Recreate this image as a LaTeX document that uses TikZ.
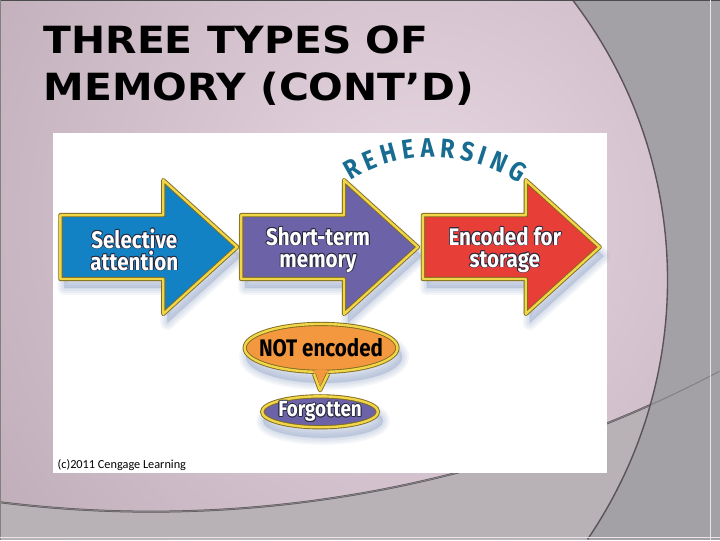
\documentclass[tikz,border=0pt]{standalone}
\usepackage{fontspec}
\usepackage[copies]{contour}
\usetikzlibrary{shapes.geometric,decorations.text}

\newfontfamily\titlefont{DejaVu Sans}[FakeStretch=1.09]
\newfontfamily\labelfont{Fira Sans}[FakeStretch=0.86]
\newfontfamily\creditfont{Carlito}

\definecolor{pagegray}{RGB}{163,161,166}
\definecolor{pinklight}{RGB}{232,216,226}
\definecolor{mauve}{RGB}{165,145,158}
\definecolor{lowgray}{RGB}{184,177,182}
\definecolor{arcline}{RGB}{92,82,90}
\definecolor{arrowblue}{RGB}{18,130,196}
\definecolor{arrowpurple}{RGB}{108,98,168}
\definecolor{arrowred}{RGB}{232,62,56}
\definecolor{bubbleorange}{RGB}{244,152,64}
\definecolor{gold}{RGB}{240,214,72}
\definecolor{goldedge}{RGB}{128,108,30}
\definecolor{shadowc}{RGB}{140,158,198}
\definecolor{rehblue}{RGB}{24,108,145}
\definecolor{textedge}{RGB}{40,40,62}

\contourlength{0.8pt}
\contournumber{8}
\newcommand{\outl}[1]{\contour{textedge}{#1}}
\newcommand{\rehfont}{\labelfont\bfseries\fontsize{27}{27}\selectfont\color{rehblue}}
% arrow outline, #1 = left end of the shaft
\newcommand{\arrowpath}[1]{(#1,325) -- ++(103,0) -- ++(0,35) -- ++(74,-67) -- ++(-74,-67) -- ++(0,35) -- ++(-103,0) -- cycle}

\tikzset{
  memarrow/.style={fill=#1, draw=goldedge, line width=4.2pt, line join=round,
    postaction={draw=gold, line width=2.4pt, line join=round}},
  bubble/.style={ellipse, fill=#1, draw=goldedge, line width=4.2pt, inner sep=0pt,
    postaction={draw=gold, line width=2.4pt}},
  memlabel/.style={text=white, align=center, font=\labelfont\bfseries\fontsize{24}{22}\selectfont},
  softshadow/.style={shadowc, opacity=0.1, line join=round}
}

\begin{document}
\begin{tikzpicture}[x=1pt,y=1pt]
        % slide background
        \fill[pagegray] (0,0) rectangle (720,540);
        \begin{scope}
            \clip (0,0) rectangle (720,540);
            \clip (207,260) circle (461);
            \shade[inner color=pinklight, outer color=mauve] (420,320) circle (860);
            \fill[lowgray, even odd rule] (0,0) rectangle (720,540) (151,1250) circle (1222);
            \draw[arcline, line width=2pt] (0,37.4) arc[start angle=262.9, end angle=297.75, radius=1222];
        \end{scope}
        \begin{scope}
            \clip (0,0) rectangle (720,540);
            \draw[gray, line width=1pt] (0,37.4) arc[start angle=262.9, end angle=297.75, radius=1222];
            \draw[arcline, line width=1.4pt] (573.2,540) arc[start angle=37.4, end angle=-34.3, radius=461];
        \end{scope}
        \draw[black!70, line width=1pt] (0,539.5) -- (720,539.5);
        \draw[black!50, line width=0.8pt] (0.4,0) -- (0.4,540);
        \draw[white!80!gray, line width=0.8pt] (711,0) -- (711,540);
        \draw[white!80!gray, line width=0.8pt] (0,2) -- (720,2);

        \node[anchor=base west, inner sep=0pt, font=\titlefont\bfseries\fontsize{37.5}{38}\selectfont] (title1) at (43,487) {THREE TYPES OF};
        \node[anchor=base west, inner sep=0pt, font=\titlefont\bfseries\fontsize{37.5}{38}\selectfont] (title2) at (43,440) {MEMORY (CONT’D)};

        % the figure
        \fill[white] (53,67) rectangle (607,407);
        \foreach \x in {60,241,423}
            \foreach \w in {14,10,6,2}
                \filldraw[softshadow, line width=\w pt, shift={(4,-9)}] \arrowpath{\x};
        \foreach \w in {14,10,6,2}{
            \filldraw[softshadow, line width=\w pt] (324,183) ellipse[x radius=78, y radius=26];
            \filldraw[softshadow, line width=\w pt] (323,119) ellipse[x radius=60, y radius=17];
        }
        \draw[memarrow=arrowblue] \arrowpath{60};
        \draw[memarrow=arrowpurple] \arrowpath{241};
        \draw[memarrow=arrowred] \arrowpath{423};

        \node[bubble=bubbleorange, minimum width=153pt, minimum height=48pt] (notenc) at (321,192) {};
        \node[bubble=arrowpurple, minimum width=116pt, minimum height=31pt] (forg) at (320,128) {};
        \coordinate (tailtip) at ([yshift=4pt]forg.north);
        \fill[bubbleorange] ([xshift=-8pt,yshift=3pt]notenc.south) -- ([xshift=8pt,yshift=3pt]notenc.south) -- (tailtip) -- cycle;
        \draw[goldedge, line width=4.2pt, line join=round] ([xshift=-7pt]notenc.south) -- (tailtip) -- ([xshift=7pt]notenc.south);
        \draw[gold, line width=2.4pt, line join=round] ([xshift=-7pt]notenc.south) -- (tailtip) -- ([xshift=7pt]notenc.south);
        \fill[bubbleorange] ([xshift=-6pt,yshift=4pt]notenc.south) -- ([xshift=6pt,yshift=4pt]notenc.south) -- ([yshift=4pt]tailtip) -- cycle;

        \node[memlabel] (sel) at (134,290) {\outl{Selective}\\\outl{attention}};
        \node[memlabel] (stm) at (318,290) {\outl{Short-term}\\\outl{memory}};
        \node[memlabel] (enc) at (505,290) {\outl{Encoded for}\\\outl{storage}};
        \node[font=\labelfont\bfseries\fontsize{24}{24}\selectfont] (nelabel) at (notenc.center) {NOT encoded};
        \node[memlabel, font=\labelfont\bfseries\fontsize{22}{22}\selectfont] (fglabel) at (forg.center) {\outl{Forgotten}};

        \path[decorate, decoration={text along path, text align=fit to path,
            text={|\rehfont|REHEARSING}}]
            (433,228) ++(122:155) arc[start angle=122, end angle=56, radius=155];

        \node[anchor=base west, inner sep=0pt, font=\creditfont\fontsize{12.3}{13}\selectfont] (credit) at (57,71) {(c)2011 Cengage Learning};
\end{tikzpicture}
\end{document}
